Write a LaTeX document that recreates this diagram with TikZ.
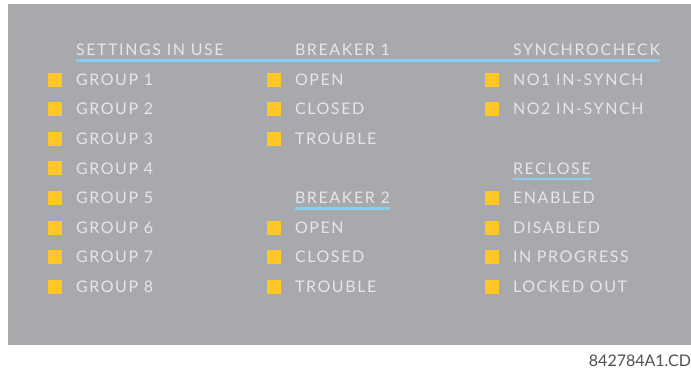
\documentclass[tikz,border=0pt]{standalone}
\usepackage{fontspec}
\usepackage{xcolor}
\usepackage{tikz}
\usetikzlibrary{positioning}
\setmainfont{Lato}
\newfontfamily\panelfont[LetterSpace=10]{Lato}
\definecolor{panelgray}{RGB}{167,169,172}
\definecolor{paneltext}{RGB}{229,230,231}
\definecolor{lampamber}{RGB}{255,199,38}
\definecolor{ruleblue}{RGB}{135,206,240}
\definecolor{codegray}{RGB}{80,80,80}

\begin{document}
\begin{tikzpicture}[x=1pt, y=-1pt, node distance=15.6pt,
    every node/.style={inner sep=0pt, outer sep=0pt},
    lamp/.style={fill=lampamber, minimum size=14pt},
    lbl/.style={font=\panelfont\fontsize{16}{16}\selectfont, text=paneltext,
      anchor=west, text height=11.5pt, text depth=0pt},
    rule/.style={draw=ruleblue, line width=2.5pt}]
  \useasboundingbox (0,0) rectangle (691,372);
  \fill[panelgray] (8,4) rectangle (691,345);

  % settings in use
  \node[lamp] at (55,79.6) (g1) {};
  \node[lamp, below=of g1] (g2) {};
  \node[lamp, below=of g2] (g3) {};
  \node[lamp, below=of g3] (g4) {};
  \node[lamp, below=of g4] (g5) {};
  \node[lamp, below=of g5] (g6) {};
  \node[lamp, below=of g6] (g7) {};
  \node[lamp, below=of g7] (g8) {};
  \node[lbl, right=14pt of g1] (g1t) {GROUP 1};
  \node[lbl, right=14pt of g2] (g2t) {GROUP 2};
  \node[lbl, right=14pt of g3] (g3t) {GROUP 3};
  \node[lbl, right=14pt of g4] (g4t) {GROUP 4};
  \node[lbl, right=14pt of g5] (g5t) {GROUP 5};
  \node[lbl, right=14pt of g6] (g6t) {GROUP 6};
  \node[lbl, right=14pt of g7] (g7t) {GROUP 7};
  \node[lbl, right=14pt of g8] (g8t) {GROUP 8};
  \node[lbl, above=18.1pt of g1t.north west, anchor=south west] (hset) {SETTINGS IN USE};

  % breakers
  \node[lamp] at (274,79.6) (b1o) {};
  \node[lamp, below=of b1o] (b1c) {};
  \node[lamp, below=of b1c] (b1x) {};
  \node[lamp] at (b1x |- g6) (b2o) {};
  \node[lamp, below=of b2o] (b2c) {};
  \node[lamp, below=of b2c] (b2x) {};
  \node[lbl, right=14pt of b1o] (b1ot) {OPEN};
  \node[lbl, right=14pt of b1c] (b1ct) {CLOSED};
  \node[lbl, right=14pt of b1x] (b1xt) {TROUBLE};
  \node[lbl, right=14pt of b2o] (b2ot) {OPEN};
  \node[lbl, right=14pt of b2c] (b2ct) {CLOSED};
  \node[lbl, right=14pt of b2x] (b2xt) {TROUBLE};
  \node[lbl, above=18.1pt of b1ot.north west, anchor=south west] (hbk1) {BREAKER 1};
  \node[lbl, above=18.1pt of b2ot.north west, anchor=south west] (hbk2) {BREAKER 2};

  % synchrocheck and reclose
  \node[lamp] at (492,79.6) (s1) {};
  \node[lamp, below=of s1] (s2) {};
  \node[lamp] at (s2 |- g5) (r1) {};
  \node[lamp, below=of r1] (r2) {};
  \node[lamp, below=of r2] (r3) {};
  \node[lamp, below=of r3] (r4) {};
  \node[lbl, right=14pt of s1] (s1t) {NO1 IN-SYNCH};
  \node[lbl, right=14pt of s2] (s2t) {NO2 IN-SYNCH};
  \node[lbl, right=14pt of r1] (r1t) {ENABLED};
  \node[lbl, right=14pt of r2] (r2t) {DISABLED};
  \node[lbl, right=14pt of r3] (r3t) {IN PROGRESS};
  \node[lbl, right=14pt of r4] (r4t) {LOCKED OUT};
  \node[lbl, above=18.1pt of s1t.north west, anchor=south west] (hsyn) {SYNCHROCHECK};
  \node[lbl, above=18.1pt of r1t.north west, anchor=south west] (hrec) {RECLOSE};

  \draw[rule] ([yshift=-4.8pt]hset.south west) -- ([yshift=-4.8pt]hsyn.south east);
  \draw[rule] ([yshift=-4.8pt]hbk2.south west) -- ([yshift=-4.8pt]hbk2.south east);
  \draw[rule] ([yshift=-4.8pt]hrec.south west) -- ([yshift=-4.8pt]hrec.south east);

  \node[font=\fontsize{16}{16}\selectfont, text=codegray, anchor=base east]
    at (691,366.5) (code) {842784A1.CD};
\end{tikzpicture}
\end{document}
